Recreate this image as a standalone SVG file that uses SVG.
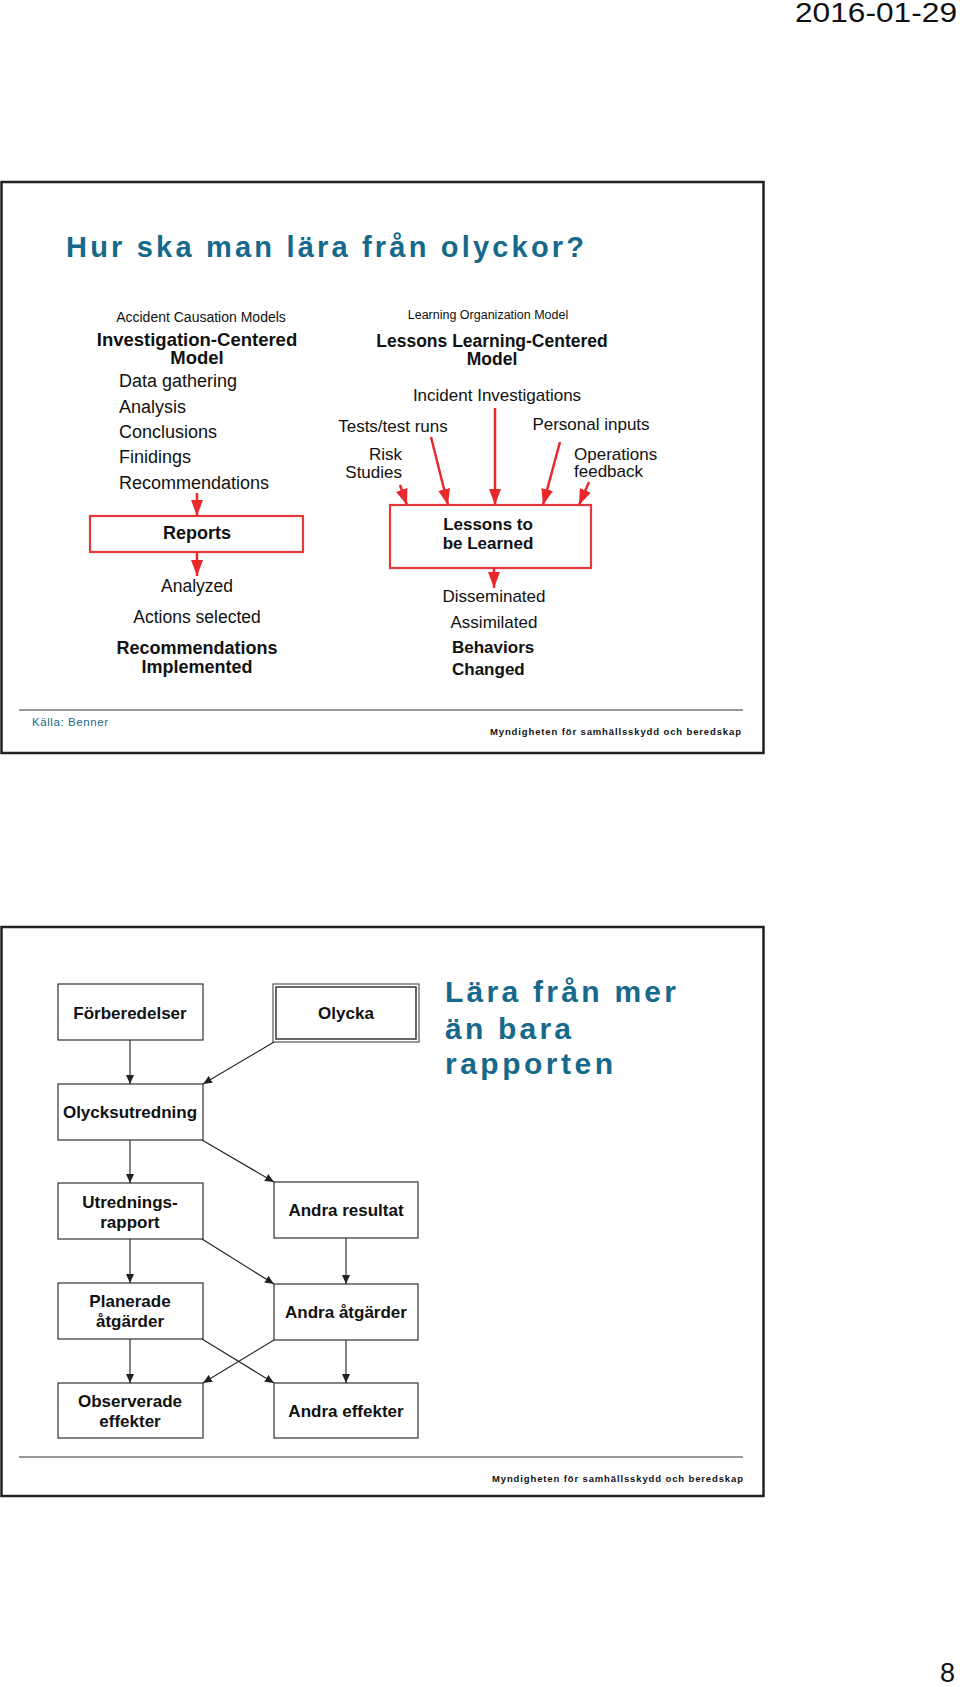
<svg xmlns="http://www.w3.org/2000/svg" width="960" height="1687" viewBox="0 0 960 1687">
<defs>
<style>
text{font-family:"Liberation Sans",Arial,sans-serif;fill:#111;}
.t{fill:#16698a;font-weight:bold;}
.b{font-weight:bold;}
.m{text-anchor:middle;}
.frame{fill:#fff;stroke:#222;stroke-width:2.5;}
.rbox{fill:#fff;stroke:#e5383b;stroke-width:2.2;}
.box{fill:#fff;stroke:#333;stroke-width:1.2;}
.ra{stroke:#e8282b;stroke-width:2.5;fill:none;marker-end:url(#rh);}
.ba{stroke:#222;stroke-width:1.1;fill:none;marker-end:url(#bh);}
.rule{stroke:#333;stroke-width:1.2;}
.n{font-size:17px;font-weight:bold;text-anchor:middle;}
.foot{font-size:9.5px;font-weight:bold;}
</style>
<marker id="rh" markerUnits="userSpaceOnUse" markerWidth="17" markerHeight="12" refX="16" refY="6" orient="auto"><path d="M0,0 L16,6 L0,12 z" fill="#e8282b"/></marker>
<marker id="bh" markerUnits="userSpaceOnUse" markerWidth="10" markerHeight="8" refX="9" refY="4" orient="auto"><path d="M0,0 L9,4 L0,8 z" fill="#222"/></marker>
</defs>
<rect width="960" height="1687" fill="#fff"/>
<text x="957" y="22" font-size="28" text-anchor="end" textLength="162" lengthAdjust="spacingAndGlyphs">2016-01-29</text>

<!-- Slide 1 -->
<g id="slide1">
<rect class="frame" x="1.5" y="182" width="762" height="571"/>
<text class="t" x="66" y="257" font-size="29" textLength="518" lengthAdjust="spacing">Hur ska man lära från olyckor?</text>
<line class="rule" x1="19" y1="710" x2="743" y2="710"/>
<text x="32" y="726" font-size="11.5" style="fill:#16698a" textLength="76" lengthAdjust="spacing">Källa: Benner</text>
<text class="foot" x="490" y="735" textLength="251" lengthAdjust="spacing">Myndigheten för samhällsskydd och beredskap</text>
</g>

<g id="left-model">
<text class="m" x="201" y="322" font-size="14">Accident Causation Models</text>
<text class="m b" x="197" y="346" font-size="18.5">Investigation-Centered</text>
<text class="m b" x="197" y="364" font-size="18.5">Model</text>
<text x="119" y="387" font-size="18">Data gathering</text>
<text x="119" y="413" font-size="18">Analysis</text>
<text x="119" y="438" font-size="18">Conclusions</text>
<text x="119" y="463" font-size="18">Finidings</text>
<text x="119" y="489" font-size="18">Recommendations</text>
</g>
<g id="reports">
<rect class="rbox" x="90" y="516" width="213" height="36"/>
<text class="m b" x="197" y="539" font-size="18">Reports</text>
</g>
<g id="left-outcomes">
<text class="m" x="197" y="592" font-size="17.5">Analyzed</text>
<text class="m" x="197" y="623" font-size="17.5">Actions selected</text>
<text class="m b" x="197" y="654" font-size="18">Recommendations</text>
<text class="m b" x="197" y="673" font-size="18">Implemented</text>
</g>

<g id="right-model">
<text class="m" x="488" y="319" font-size="12.5">Learning Organization Model</text>
<text class="m b" x="492" y="347" font-size="17.5">Lessons Learning-Centered</text>
<text class="m b" x="492" y="365" font-size="17.5">Model</text>
<text class="m" x="497" y="401" font-size="17">Incident Investigations</text>
<text class="m" x="393" y="432" font-size="17">Tests/test runs</text>
<text class="m" x="591" y="430" font-size="17">Personal inputs</text>
<text x="402" y="460" font-size="17" text-anchor="end">Risk</text>
<text x="402" y="478" font-size="17" text-anchor="end">Studies</text>
<text x="574" y="460" font-size="17">Operations</text>
<text x="574" y="477" font-size="17">feedback</text>
</g>
<g id="lessons">
<rect class="rbox" x="390" y="505" width="201" height="63"/>
<text class="m b" x="488" y="530" font-size="17">Lessons to</text>
<text class="m b" x="488" y="549" font-size="17">be Learned</text>
</g>
<g id="right-outcomes">
<text class="m" x="494" y="602" font-size="17">Disseminated</text>
<text class="m" x="494" y="628" font-size="17">Assimilated</text>
<text class="b" x="452" y="653" font-size="17">Behaviors</text>
<text class="b" x="452" y="675" font-size="17">Changed</text>
</g>

<g id="connectors-slide1">
<line class="ra" x1="197" y1="493" x2="197" y2="516"/>
<line class="ra" x1="197" y1="552" x2="197" y2="576"/>
<line class="ra" x1="494" y1="568" x2="494" y2="588"/>
<line class="ra" x1="495" y1="408" x2="495" y2="505"/>
<line class="ra" x1="431" y1="437" x2="448" y2="505"/>
<line class="ra" x1="560" y1="442" x2="543" y2="505"/>
<line class="ra" x1="400" y1="485" x2="407" y2="505"/>
<line class="ra" x1="589" y1="482" x2="579" y2="505"/>
</g>

<!-- Slide 2 -->
<g id="slide2">
<rect class="frame" x="1.5" y="927" width="762" height="569"/>
<text class="t" x="445" y="1002" font-size="30" textLength="231" lengthAdjust="spacing">Lära från mer</text>
<text class="t" x="445" y="1039" font-size="30" textLength="126" lengthAdjust="spacing">än bara</text>
<text class="t" x="445" y="1074" font-size="30" textLength="168" lengthAdjust="spacing">rapporten</text>
<line class="rule" x1="19" y1="1457" x2="743" y2="1457"/>
<text class="foot" x="492" y="1482" textLength="251" lengthAdjust="spacing">Myndigheten för samhällsskydd och beredskap</text>
</g>

<g id="forberedelser">
<rect class="box" x="58" y="984" width="145" height="56"/>
<text class="n" x="130" y="1019">Förberedelser</text>
</g>
<g id="olycka">
<rect x="273" y="984" width="146" height="58" fill="#fff" stroke="#555" stroke-width="1.2"/>
<rect x="276" y="987" width="140" height="52" fill="none" stroke="#333" stroke-width="1.5"/>
<text class="n" x="346" y="1019">Olycka</text>
</g>
<g id="olycksutredning">
<rect class="box" x="58" y="1084" width="145" height="56"/>
<text class="n" x="130" y="1118">Olycksutredning</text>
</g>
<g id="utredningsrapport">
<rect class="box" x="58" y="1183" width="145" height="56"/>
<text class="n" x="130" y="1208">Utrednings-</text>
<text class="n" x="130" y="1228">rapport</text>
</g>
<g id="andra-resultat">
<rect class="box" x="274" y="1182" width="144" height="56"/>
<text class="n" x="346" y="1216">Andra resultat</text>
</g>
<g id="planerade">
<rect class="box" x="58" y="1283" width="145" height="56"/>
<text class="n" x="130" y="1307">Planerade</text>
<text class="n" x="130" y="1327">åtgärder</text>
</g>
<g id="andra-atgarder">
<rect class="box" x="274" y="1284" width="144" height="56"/>
<text class="n" x="346" y="1318">Andra åtgärder</text>
</g>
<g id="observerade">
<rect class="box" x="58" y="1383" width="145" height="55"/>
<text class="n" x="130" y="1407">Observerade</text>
<text class="n" x="130" y="1427">effekter</text>
</g>
<g id="andra-effekter">
<rect class="box" x="274" y="1383" width="144" height="55"/>
<text class="n" x="346" y="1417">Andra effekter</text>
</g>

<g id="connectors-slide2">
<line class="ba" x1="130" y1="1040" x2="130" y2="1084"/>
<line class="ba" x1="274" y1="1042" x2="203" y2="1084"/>
<line class="ba" x1="130" y1="1140" x2="130" y2="1183"/>
<line class="ba" x1="202" y1="1140" x2="274" y2="1182"/>
<line class="ba" x1="130" y1="1239" x2="130" y2="1283"/>
<line class="ba" x1="202" y1="1239" x2="274" y2="1284"/>
<line class="ba" x1="346" y1="1238" x2="346" y2="1284"/>
<line class="ba" x1="130" y1="1339" x2="130" y2="1383"/>
<line class="ba" x1="202" y1="1339" x2="274" y2="1383"/>
<line class="ba" x1="274" y1="1340" x2="203" y2="1383"/>
<line class="ba" x1="346" y1="1340" x2="346" y2="1383"/>
</g>

<text x="955" y="1682" font-size="27" text-anchor="end">8</text>
</svg>
